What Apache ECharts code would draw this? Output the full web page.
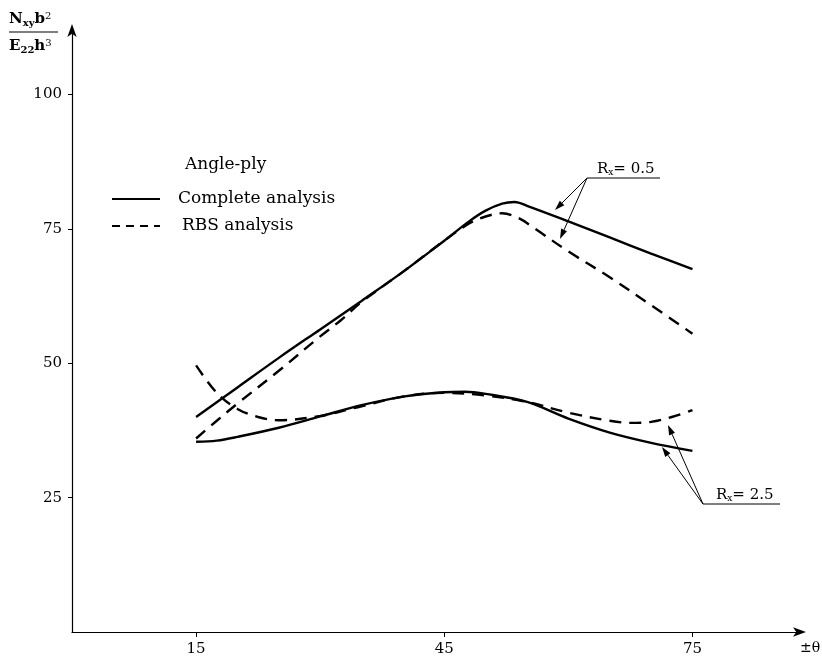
<!DOCTYPE html>
<html><head><meta charset="utf-8">
<script src="https://cdn.jsdelivr.net/npm/echarts@6/dist/echarts.min.js"></script>
<style>html,body{margin:0;padding:0;background:#fff}#c{width:822px;height:665px}</style>
</head><body><div id="c"></div>
<script>
// Data (theta in degrees, Nxy b^2 / E22 h^3)
const xTicks = [15, 45, 75];
const yTicks = [25, 50, 75, 100];
const legendNames = ['Complete analysis', 'RBS analysis'];
const completeR05 = [[15,40],[20,45.5],[25,51],[30,56.3],[35,61.6],[40,67],[45,72.8],[48,76.4],[50,78.4],[52,79.7],[53.5,80],[55,79.3],[60,76.4],[65,73.4],[70,70.4],[75,67.5]];
const rbsR05 = [[15,36],[17.5,39.3],[20,42.5],[25,48.6],[30,55],[32.5,58],[35,61.4],[40,67],[45,72.8],[48,76],[50,77.3],[52,77.9],[54,77],[56,75],[60,70.8],[65,66],[70,60.8],[75,55.5]];
const completeR25 = [[15,35.4],[17.5,35.6],[20,36.3],[25,38],[30,40.1],[35,42.2],[40,43.8],[45,44.6],[47.5,44.7],[50,44.3],[55,42.8],[60,39.7],[65,37.1],[70,35.2],[75,33.7]];
const rbsR25 = [[15,49.6],[17.5,44.5],[20,41.5],[22.5,40],[25,39.4],[30,40.2],[35,42],[40,43.8],[45,44.5],[50,44],[55,42.8],[60,40.8],[65,39.3],[67.5,38.9],[70,39.1],[72.5,40],[75,41.3]];

const FONT = 'DejaVu Serif';
const chart = echarts.init(document.getElementById('c'), null, {renderer:'canvas'});

function mkSeries(name, data, dashed){
  return {
    name: name, type:'line', data: data, smooth: 0.35, showSymbol:false, symbol:'none',
    lineStyle:{color:'#000', width:2.4, type: dashed ? [12,8] : 'solid'},
    itemStyle:{color:'#000'}, silent:true, animation:false
  };
}

function arrowEls(x1,y1,x2,y2){
  const dx=x2-x1, dy=y2-y1, L=Math.hypot(dx,dy), ux=dx/L, uy=dy/L;
  const hl=10, hw=3.2;
  const bx=x2-ux*hl, by=y2-uy*hl;
  return [
    {type:'line', shape:{x1:x1,y1:y1,x2:bx,y2:by}, style:{stroke:'#000', lineWidth:1}},
    {type:'polygon', shape:{points:[[x2,y2],[bx-uy*hw,by+ux*hw],[bx+uy*hw,by-ux*hw]]}, style:{fill:'#000'}}
  ];
}

const option = {
  backgroundColor:'#fff',
  animation:false,
  grid:{left:72, right:22, top:30, bottom:33, containLabel:false},
  xAxis:{
    type:'value', min:0, max:88,
    axisLine:{show:true, onZero:false, symbol:['none','arrow'], symbolSize:[7,13], symbolOffset:[0,6], lineStyle:{color:'#000', width:1.2}},
    axisTick:{show:true, length:5, customValues:xTicks, lineStyle:{color:'#000'}},
    axisLabel:{customValues:xTicks, color:'#000', fontFamily:FONT, fontSize:15, margin:10},
    splitLine:{show:false}
  },
  yAxis:{
    type:'value', min:0, max:112,
    axisLine:{show:true, onZero:false, symbol:['none','arrow'], symbolSize:[7,13], symbolOffset:[0,6], lineStyle:{color:'#000', width:1.2}},
    axisTick:{show:true, length:4, customValues:yTicks, lineStyle:{color:'#000'}},
    axisLabel:{customValues:yTicks, color:'#000', fontFamily:FONT, fontSize:15, margin:10},
    splitLine:{show:false}
  },
  series:[
    mkSeries(legendNames[0], completeR05, false),
    mkSeries(legendNames[1], rbsR05, true),
    mkSeries(legendNames[0], completeR25, false),
    mkSeries(legendNames[1], rbsR25, true)
  ]
};
chart.setOption(option);

const graphics = [];
// legend
graphics.push({type:'text', left:185, top:156, style:{text:'Angle-ply', fontFamily:FONT, fontSize:17, fill:'#000'}});
graphics.push({type:'line', shape:{x1:112,y1:199,x2:160,y2:199}, style:{stroke:'#000', lineWidth:2.2}});
graphics.push({type:'text', left:178, top:190, style:{text:legendNames[0], fontFamily:FONT, fontSize:17, fill:'#000'}});
graphics.push({type:'line', shape:{x1:112,y1:226,x2:160,y2:226}, style:{stroke:'#000', lineWidth:2.2, lineDash:[8,6]}});
graphics.push({type:'text', left:182, top:217, style:{text:legendNames[1], fontFamily:FONT, fontSize:17, fill:'#000'}});

// axis title fraction
const rich = {n:{fontFamily:FONT,fontSize:15,fontWeight:'bold',fill:'#000'}, s:{fontFamily:FONT,fontSize:10,fontWeight:'bold',fill:'#000',verticalAlign:'bottom', padding:[7,0,0,0]}, p:{fontFamily:FONT,fontSize:10,fill:'#000',verticalAlign:'top', padding:[0,0,7,0]}};
graphics.push({type:'text', left:9, top:11, style:{rich:rich, text:'{n|N}{s|xy}{n|b}{p|2}'}});
graphics.push({type:'line', shape:{x1:9,y1:32,x2:58,y2:32}, style:{stroke:'#000', lineWidth:1.2}});
graphics.push({type:'text', left:9, top:38, style:{rich:rich, text:'{n|E}{s|22}{n|h}{p|3}'}});

// x axis name
graphics.push({type:'text', left:800, top:641, style:{text:'±θ', fontFamily:FONT, fontSize:14, fill:'#000'}});

// R = 0.5 annotation
const rrich = {n:{fontFamily:FONT,fontSize:15,fill:'#000'}, s:{fontFamily:FONT,fontSize:9,fill:'#000',verticalAlign:'bottom',padding:[7,0,0,0]}};
graphics.push({type:'text', left:597, top:162, style:{rich:rrich, text:'{n|R}{s|x}{n|= 0.5}'}});
graphics.push({type:'line', shape:{x1:587,y1:178,x2:660,y2:178}, style:{stroke:'#000', lineWidth:1}});
graphics.push(...arrowEls(587,178,555,210));
graphics.push(...arrowEls(587,178,560,239));

// R = 2.5 annotation
graphics.push({type:'text', left:716, top:488, style:{rich:rrich, text:'{n|R}{s|x}{n|= 2.5}'}});
graphics.push({type:'line', shape:{x1:703,y1:504,x2:780,y2:504}, style:{stroke:'#000', lineWidth:1}});
graphics.push(...arrowEls(703,504,662,447));
graphics.push(...arrowEls(703,504,668,425));

chart.setOption({graphic:{elements:graphics}});
</script>
</body></html>
